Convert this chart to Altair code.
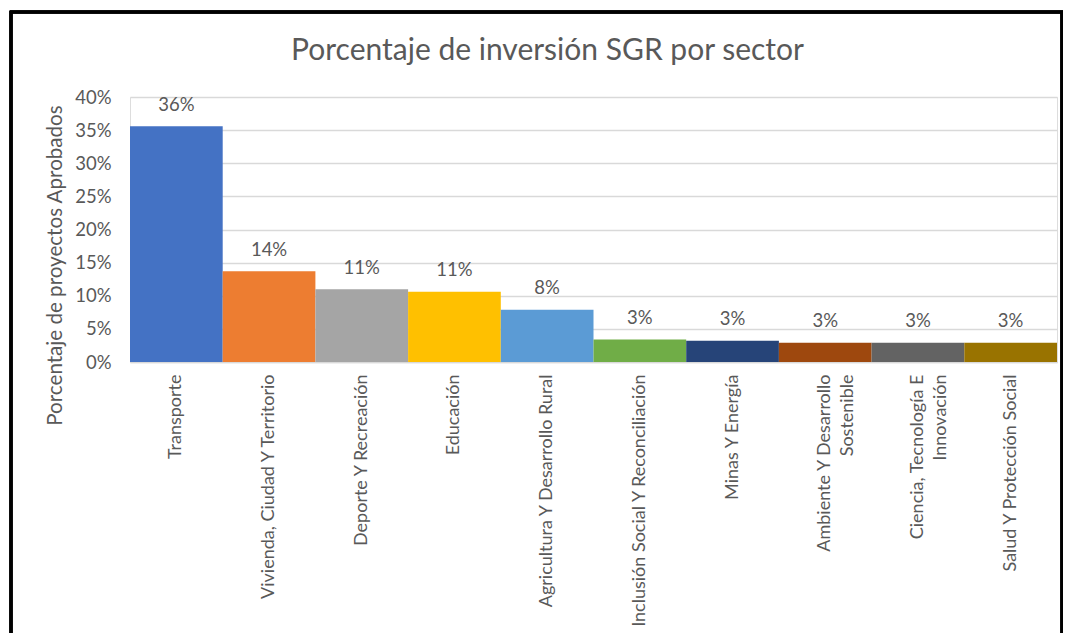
import altair as alt
import pandas as pd

categories = [
    "Transporte",
    "Vivienda, Ciudad Y Territorio",
    "Deporte Y Recreación",
    "Educación",
    "Agricultura Y Desarrollo Rural",
    "Inclusión Social Y Reconciliación",
    "Minas Y Energía",
    "Ambiente Y Desarrollo|Sostenible",
    "Ciencia, Tecnología E|Innovación",
    "Salud Y Protección Social",
]
values = [0.356, 0.137, 0.110, 0.106, 0.079, 0.034, 0.032, 0.029, 0.029, 0.029]
colors = ["#4472C4", "#ED7D31", "#A5A5A5", "#FFC000", "#5B9BD5",
          "#70AD47", "#264478", "#9E480E", "#636363", "#997300"]
y_ticks = [0, 0.05, 0.10, 0.15, 0.20, 0.25, 0.30, 0.35, 0.40]

df = pd.DataFrame({"sector": categories, "pct": values})

FONT = "Lato"
GREY = "#595959"
FS = 18.5

x_enc = alt.X(
    "sector:N",
    sort=categories,
    scale=alt.Scale(paddingInner=0, paddingOuter=0),
    axis=alt.Axis(
        title=None,
        labelAngle=-90,
        labelExpr="split(datum.value, '|')",
        labelLineHeight=23,
        labelLimit=400,
        labelFontSize=18,
        labelFont=FONT,
        labelColor=GREY,
        labelPadding=12,
        ticks=False,
        domainColor="#d9d9d9",
        domainWidth=1.5,
    ),
)
y_enc = alt.Y(
    "pct:Q",
    scale=alt.Scale(domain=[0, 0.4], nice=False),
    axis=alt.Axis(
        title="Porcentaje de proyectos Aprobados",
        titleFont=FONT,
        titleFontSize=20.6,
        titleFontWeight="normal",
        titleColor=GREY,
        titleAngle=-90,
        titleAlign="center",
        titleBaseline="middle",
        titleX=-75,
        titleY=168,
        values=y_ticks,
        tickCount=9,
        labelOverlap=False,
        format=".0%",
        labelFont=FONT,
        labelFontSize=FS,
        labelColor=GREY,
        labelPadding=19,
        ticks=False,
        domain=False,
        gridColor="#d9d9d9",
        gridWidth=1.5,
    ),
)

bars = alt.Chart(df).mark_bar().encode(
    x=x_enc,
    y=y_enc,
    color=alt.Color("sector:N", scale=alt.Scale(domain=categories, range=colors), legend=None),
)

labels = alt.Chart(df).mark_text(
    font=FONT, fontSize=FS, color=GREY, baseline="alphabetic", dy=-15.5
).encode(
    x=x_enc,
    y=y_enc,
    text=alt.Text("pct:Q", format=".0%"),
)

border = alt.Chart(df).mark_rect(
    fill=None, stroke="black", strokeWidth=2.5
).encode(
    x=alt.value(-119), x2=alt.value(932), y=alt.value(-85), y2=alt.value(800)
)

chart = alt.layer(bars, labels, border).properties(
    width=927,
    height=265,
    title=alt.TitleParams(
        "Porcentaje de inversión SGR por sector",
        font=FONT,
        fontSize=30,
        fontWeight="normal",
        color=GREY,
        anchor="middle",
        frame="group",
        baseline="alphabetic",
        offset=-79,
        dx=-46,
    ),
    autosize=alt.AutoSizeParams(type="none"),
    padding={"left": 122, "top": 89, "right": 6, "bottom": 271},
).configure_view(stroke=None).configure(background="white")

chart.save("out.html", embed_options={"renderer": "svg", "actions": False})
